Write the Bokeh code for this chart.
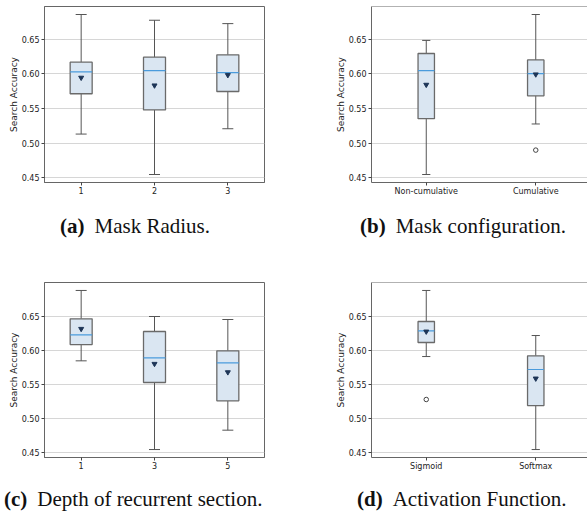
import numpy as np
from bokeh.plotting import figure
from bokeh.models import Range1d, FixedTicker, PrintfTickFormatter, Span, ColumnDataSource, Div
from bokeh.layouts import row, column
from bokeh.embed import file_html
from bokeh.resources import INLINE

# ---------------- data ----------------
a_labels = ["1", "2", "3"]
a_low = [0.513, 0.4545, 0.5207]
a_q1 = [0.5713, 0.548, 0.5746]
a_med = [0.603, 0.6048, 0.6019]
a_q3 = [0.617, 0.6242, 0.6276]
a_high = [0.686, 0.6777, 0.6728]
a_mean = [0.5946, 0.5834, 0.5984]
a_out_cat = []
a_out_val = []

b_labels = ["Non-cumulative", "Cumulative"]
b_low = [0.4545, 0.5276]
b_q1 = [0.5353, 0.5684]
b_med = [0.6048, 0.6004]
b_q3 = [0.6296, 0.6203]
b_high = [0.6485, 0.686]
b_mean = [0.5844, 0.5994]
b_out_cat = [2]
b_out_val = [0.4898]

c_labels = ["1", "3", "5"]
c_low = [0.5845, 0.4544, 0.4828]
c_q1 = [0.6084, 0.5527, 0.5258]
c_med = [0.6226, 0.5889, 0.5815]
c_q3 = [0.6461, 0.6275, 0.5991]
c_high = [0.6877, 0.6495, 0.6451]
c_mean = [0.6314, 0.5801, 0.5678]
c_out_cat = []
c_out_val = []

d_labels = ["Sigmoid", "Softmax"]
d_low = [0.5908, 0.4544]
d_q1 = [0.6114, 0.5189]
d_med = [0.6285, 0.5718]
d_q3 = [0.6422, 0.5918]
d_high = [0.6877, 0.6216]
d_mean = [0.6275, 0.5586]
d_out_cat = [1]
d_out_val = [0.5278]

y_ticks = [0.45, 0.50, 0.55, 0.60, 0.65]
y_label = "Search Accuracy"

captions = [("(a)", "Mask Radius."), ("(b)", "Mask configuration."),
            ("(c)", "Depth of recurrent section."), ("(d)", "Activation Function.")]

# ---------------- styles ----------------
BOX_FILL = "#dae6f2"
BOX_LINE = "#6a6a6a"
WHISK = "#555555"
MED = "#4a9bdc"
MEAN = "#1d3557"
FRAME = "#666666"
GRID = "#d6d6d6"
TICKFONT = "DejaVu Sans"


def panel(labels, low, q1, med, q3, high, mean, out_cat, out_val,
          frame_w, frame_h, x_end, bl, br, bt, bb, full_frame):
    n = len(labels)
    pos = np.arange(1, n + 1)
    box_w = float(np.clip(0.15 * (n - 1), 0.15, 0.5))
    vals = np.concatenate([np.asarray(low), np.asarray(high), np.asarray(out_val, dtype=float)])
    lo, hi = vals.min(), vals.max()
    mg = 0.05 * (hi - lo)
    y0, y1 = lo - mg, hi + mg

    p = figure(frame_width=frame_w, frame_height=frame_h,
               x_range=Range1d(0.5, x_end), y_range=Range1d(y0, y1),
               output_backend="svg", toolbar_location=None,
               min_border_left=bl, min_border_right=br,
               min_border_top=bt, min_border_bottom=bb,
               background_fill_color="white", border_fill_color="white")
    p.outline_line_color = FRAME if full_frame else None
    p.outline_line_width = 1
    p.xgrid.visible = False
    p.ygrid.grid_line_color = GRID
    p.ygrid.grid_line_width = 1

    for ax in (p.xaxis[0], p.yaxis[0]):
        ax.axis_line_color = FRAME
        ax.major_tick_line_color = "#444444"
        ax.major_tick_out = 3
        ax.major_tick_in = 0
        ax.minor_tick_line_color = None
        ax.major_label_text_font = TICKFONT
        ax.major_label_text_font_size = "8px"
        ax.major_label_text_color = "#222222"
        ax.major_label_standoff = 2
    p.xaxis.major_label_standoff = 1
    p.xaxis.ticker = FixedTicker(ticks=list(pos))
    p.xaxis.major_label_overrides = {int(k): lab for k, lab in zip(pos, labels)}
    p.yaxis.ticker = FixedTicker(ticks=y_ticks)
    p.yaxis.formatter = PrintfTickFormatter(format="%.2f")
    p.ygrid.ticker = FixedTicker(ticks=y_ticks)
    p.yaxis.axis_label = y_label
    p.yaxis.axis_label_text_font = TICKFONT
    p.yaxis.axis_label_text_font_size = "9px"
    p.yaxis.axis_label_text_font_style = "normal"
    p.yaxis.axis_label_text_color = "#222222"
    p.yaxis.axis_label_standoff = 0

    if not full_frame:
        p.add_layout(Span(location=y1, dimension="width", line_color=FRAME, line_width=1))

    src = ColumnDataSource(dict(x=pos, low=low, q1=q1, med=med, q3=q3, high=high, mean=mean,
                                cl=pos - box_w / 4, cr=pos + box_w / 4,
                                bl=pos - box_w / 2, br=pos + box_w / 2))
    p.segment(x0="x", x1="x", y0="q3", y1="high", source=src, line_color=WHISK, line_width=1)
    p.segment(x0="x", x1="x", y0="low", y1="q1", source=src, line_color=WHISK, line_width=1)
    p.segment(x0="cl", x1="cr", y0="high", y1="high", source=src, line_color=WHISK, line_width=1)
    p.segment(x0="cl", x1="cr", y0="low", y1="low", source=src, line_color=WHISK, line_width=1)
    p.vbar(x="x", width=box_w, bottom="q1", top="q3", source=src,
           fill_color=BOX_FILL, line_color=BOX_LINE, line_width=1.3)
    p.segment(x0="bl", x1="br", y0="med", y1="med", source=src, line_color=MED, line_width=1.2)
    p.scatter(x="x", y="mean", source=src, marker="inverted_triangle", size=5,
              fill_color=MEAN, line_color=MEAN)
    p.scatter(x=list(out_cat), y=list(out_val), marker="circle", size=4.5,
              fill_color=None, line_color="#444444", line_width=1)
    return p


def caption(cap, width, height, left):
    tag, text = cap
    html = ("<div style=\"margin-left:%dpx; white-space:nowrap; font-family:'Liberation Serif',serif; "
            "font-size:21px; line-height:24px; color:#111;\"><b>%s</b>"
            "<span style=\"margin-left:10px\">%s</span></div>") % (left, tag, text)
    return Div(text=html, width=width, height=height, margin=0)


two_end = 0.5 + 216 / 109.5

pa = panel(a_labels, a_low, a_q1, a_med, a_q3, a_high, a_mean, a_out_cat, a_out_val,
           220, 176, 3.5, 44, 36, 6, 32, True)
pb = panel(b_labels, b_low, b_q1, b_med, b_q3, b_high, b_mean, b_out_cat, b_out_val,
           216, 176, two_end, 71, 0, 6, 32, False)
pc = panel(c_labels, c_low, c_q1, c_med, c_q3, c_high, c_mean, c_out_cat, c_out_val,
           220, 175, 3.5, 44, 36, 26, 30, True)
pd = panel(d_labels, d_low, d_q1, d_med, d_q3, d_high, d_mean, d_out_cat, d_out_val,
           216, 175, two_end, 71, 0, 26, 30, False)

ca = caption(captions[0], 300, 42, 60)
cb = caption(captions[1], 287, 42, 60)
cc = caption(captions[2], 300, 27, 4)
cd = caption(captions[3], 287, 27, 57)

layout = column(row(pa, pb), row(ca, cb), row(pc, pd), row(cc, cd))

open("out.html", "w").write(file_html(layout, INLINE))
